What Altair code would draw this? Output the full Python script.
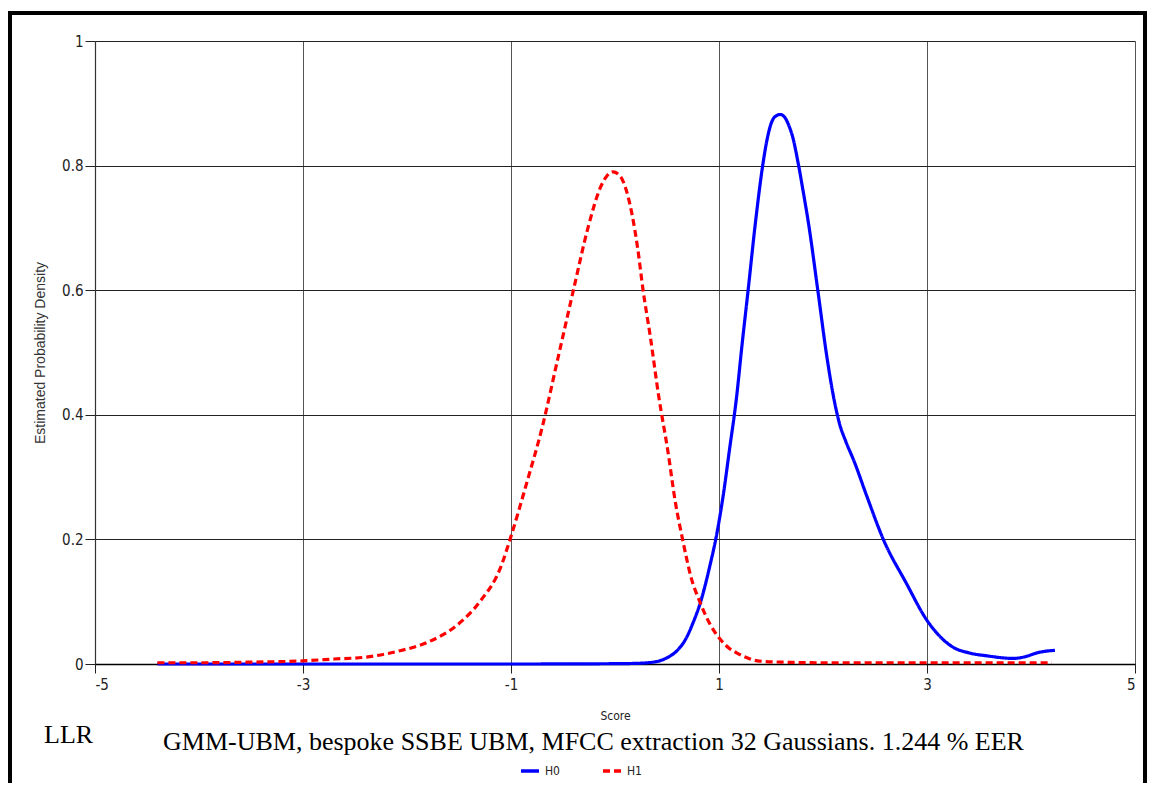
import altair as alt
import pandas as pd

# ---- data ----
h0_x = [-4.4, -3.0, -1.0, 0.0, 0.2, 0.37, 0.5, 0.6, 0.68, 0.75, 0.82, 0.91, 0.98, 1.04, 1.1,
        1.17, 1.22, 1.28, 1.35, 1.42, 1.46, 1.50, 1.55, 1.59, 1.63, 1.67, 1.71, 1.76, 1.81,
        1.86, 1.95, 2.04, 2.10, 2.16, 2.22, 2.30, 2.42, 2.58, 2.8, 3.0, 3.12, 3.25, 3.4, 3.58,
        3.83, 3.95, 4.06, 4.23]
h0_y = [0.0, 0.0, 0.0, 0.0005, 0.001, 0.003, 0.01, 0.022, 0.04, 0.066, 0.098, 0.156, 0.21, 0.27, 0.343,
        0.43, 0.51, 0.6, 0.708, 0.80, 0.84, 0.867, 0.88, 0.882, 0.878, 0.865, 0.845, 0.805, 0.758,
        0.708, 0.6, 0.49, 0.43, 0.385, 0.357, 0.325, 0.27, 0.2, 0.13, 0.07, 0.045, 0.027, 0.018,
        0.013, 0.009, 0.012, 0.018, 0.022]

h1_x = [-4.4, -4.0, -3.5, -3.0, -2.7, -2.4, -2.1, -1.8, -1.5, -1.3, -1.1, -1.0, -0.85, -0.7,
        -0.55, -0.4, -0.26, -0.14, -0.08, -0.02, 0.04, 0.10, 0.16, 0.22, 0.27, 0.34, 0.42, 0.51,
        0.58, 0.65, 0.73, 0.82, 0.91, 1.01, 1.1, 1.17, 1.27, 1.37, 1.6, 2.0, 3.0, 4.2]
h1_y = [0.002, 0.002, 0.003, 0.005, 0.008, 0.011, 0.02, 0.035, 0.065, 0.10, 0.155, 0.205, 0.29, 0.38,
        0.49, 0.60, 0.70, 0.765, 0.783, 0.79, 0.785, 0.765, 0.725, 0.665, 0.60, 0.525, 0.43, 0.34,
        0.26, 0.20, 0.14, 0.098, 0.065, 0.04, 0.025, 0.018, 0.01, 0.005, 0.003, 0.002, 0.002, 0.002]

series = ["H0", "H1"]
x_ticks = [-5, -3, -1, 1, 3, 5]
y_ticks = [0, 0.2, 0.4, 0.6, 0.8, 1]
x_title = "Score"
y_title = "Estimated Probability Density"
left_note = ["LLR"]
caption = ["GMM-UBM, bespoke SSBE UBM, MFCC extraction 32 Gaussians. 1.244 % EER"]

df = pd.concat([
    pd.DataFrame({"x": h0_x, "y": h0_y, "s": series[0]}),
    pd.DataFrame({"x": h1_x, "y": h1_y, "s": series[1]}),
])

NARROW = "DejaVu Sans Condensed, sans-serif"
HYPHEN = "datum.value < 0 ? '-' + abs(datum.value) : '' + datum.value"

lines = alt.Chart(df).mark_line(interpolate="monotone", strokeWidth=3.2).encode(
    x=alt.X("x:Q", scale=alt.Scale(domain=[-5, 5], nice=False),
            axis=alt.Axis(values=x_ticks, title=x_title, labelExpr=HYPHEN, grid=True,
                          gridColor="#555", gridWidth=1, tickSize=9, tickColor="#222",
                          domainColor="#000", domainWidth=1.5, labelFont=NARROW,
                          labelFontSize=15, labelColor="#222", labelPadding=4,
                          titleFont=NARROW, titleFontSize=12, titleFontWeight="normal",
                          titleColor="#222", titlePadding=18)),
    y=alt.Y("y:Q", scale=alt.Scale(domain=[0, 1], nice=False),
            axis=alt.Axis(values=y_ticks, format="~g", title=y_title, grid=True,
                          gridColor="#222", gridWidth=1.2, tickSize=10, tickColor="#222",
                          domainColor="#333", domainWidth=1.2, labelFont=NARROW,
                          labelFontSize=15, labelColor="#222", labelPadding=2,
                          titleFont="Liberation Sans, Arial, sans-serif", titleFontSize=14,
                          titleFontWeight="normal", titleColor="#333", titlePadding=14)),
    color=alt.Color("s:N", scale=alt.Scale(domain=series, range=["#0000ff", "#ff0000"]),
                    legend=alt.Legend(title=None, orient="none", legendX=424, legendY=719,
                                      direction="horizontal", symbolType="stroke",
                                      symbolStrokeWidth=3.5, symbolSize=324,
                                      labelFont=NARROW, labelFontSize=12, labelColor="#222",
                                      labelOffset=4, columnPadding=36)),
    strokeDash=alt.StrokeDash("s:N", scale=alt.Scale(domain=series, range=[[1, 0], [7, 4]]),
                              legend=None),
)

frame = alt.Chart(pd.DataFrame({"a": [0]})).mark_rect(
    fill=None, stroke="#000", strokeWidth=4
).encode(x=alt.value(-85), x2=alt.value(1050), y=alt.value(-28), y2=alt.value(800))

llr = alt.Chart(pd.DataFrame({"t": left_note})).mark_text(
    font="Liberation Serif, Times New Roman, serif", fontSize=26, align="left",
    baseline="alphabetic", color="#000"
).encode(text="t:N", x=alt.value(-51), y=alt.value(702))

cap = alt.Chart(pd.DataFrame({"t": caption})).mark_text(
    font="Liberation Serif, Times New Roman, serif", fontSize=26, align="center",
    baseline="alphabetic", color="#000"
).encode(text="t:N", x=alt.value(498.5), y=alt.value(709))

chart = alt.layer(frame, lines, llr, cap).properties(
    width=1040, height=623,
    autosize=alt.AutoSizeParams(type="none"),
    padding={"left": 87, "top": 33, "right": 12, "bottom": 119},
    background="#ffffff",
).configure_view(strokeWidth=0)

chart.save("out.html", embed_options={"renderer": "svg", "actions": False})
